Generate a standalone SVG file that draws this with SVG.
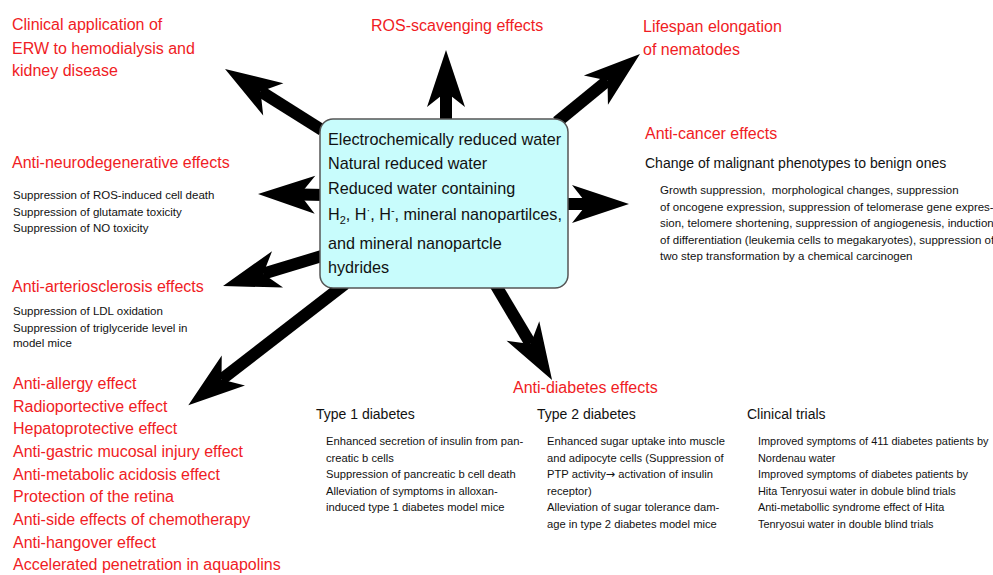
<svg xmlns="http://www.w3.org/2000/svg" width="993" height="575" viewBox="0 0 993 575">
<style>
text{font-family:"Liberation Sans",Arial,sans-serif}
.red{font-size:16px;fill:#f01c24}
.sub{font-size:14px;fill:#111}
.sm{font-size:11.2px;fill:#111}
.sm3{font-size:10.9px;fill:#111}
.sm2{font-size:11.5px;fill:#111}
.ctr{font-size:16.2px;fill:#111}
.shaft{stroke:#000;stroke-width:12;fill:none;marker-end:url(#ah)}
</style>
<defs>
<marker id="ah" markerUnits="userSpaceOnUse" markerWidth="60" markerHeight="40" refX="0" refY="0" orient="auto" style="overflow:visible">
<path d="M42,0 L-15,-19 L0,0 L-15,19 Z" fill="#000"/>
</marker>
</defs>
<rect width="993" height="575" fill="#fff"/>
<g id="connectors">
<line class="shaft" x1="322" y1="130" x2="260.6" y2="91.4"/>
<line class="shaft" x1="446" y1="125" x2="446" y2="92"/>
<line class="shaft" x1="557" y1="122" x2="607.5" y2="80.6"/>
<line class="shaft" x1="560" y1="204" x2="587" y2="204"/>
<line class="shaft" x1="325" y1="195" x2="300" y2="194.6"/>
<line class="shaft" x1="325" y1="255" x2="263.2" y2="273.8"/>
<line class="shaft" x1="345" y1="284" x2="221.5" y2="379.6"/>
<line class="shaft" x1="495" y1="284" x2="530.6" y2="343.9"/>
</g>
<g id="center">
<rect x="320" y="119" width="248" height="169" rx="13" fill="#c8fcfc" stroke="#555" stroke-width="1.5"/>
<text class="ctr" x="328" y="145">Electrochemically reduced water</text>
<text class="ctr" x="328" y="169">Natural reduced water</text>
<text class="ctr" x="328" y="194">Reduced water containing</text>
<text class="ctr" x="328" y="220">H<tspan font-size="11" dy="4">2</tspan><tspan dy="-4">, H</tspan><tspan font-size="11" dy="-6">·</tspan><tspan dy="6">, H</tspan><tspan font-size="11" dy="-6">-</tspan><tspan dy="6">, mineral nanopartilces,</tspan></text>
<text class="ctr" x="328" y="249">and mineral nanopartcle</text>
<text class="ctr" x="328" y="273">hydrides</text>
</g>
<g id="clinical-erw">
<text class="red" x="12" y="30">Clinical application of</text>
<text class="red" x="12" y="54">ERW to hemodialysis and</text>
<text class="red" x="12" y="76">kidney disease</text>
</g>
<g id="ros">
<text class="red" x="371" y="31">ROS-scavenging effects</text>
</g>
<g id="lifespan">
<text class="red" x="643" y="32">Lifespan elongation</text>
<text class="red" x="643" y="55">of nematodes</text>
</g>
<g id="anticancer">
<text class="red" x="645" y="139">Anti-cancer effects</text>
<text class="sub" x="645" y="168">Change of malignant phenotypes to benign ones</text>
<text class="sm2" x="660" y="194">Growth suppression, &#160;morphological changes, suppression</text>
<text class="sm2" x="660" y="210.5">of oncogene expression, suppression of telomerase gene expres-</text>
<text class="sm2" x="660" y="227">sion, telomere shortening, suppression of angiogenesis, induction</text>
<text class="sm2" x="660" y="243.5">of differentiation (leukemia cells to megakaryotes), suppression of</text>
<text class="sm2" x="660" y="260">two step transformation by a chemical carcinogen</text>
</g>
<g id="neuro">
<text class="red" x="12" y="168">Anti-neurodegenerative effects</text>
<text class="sm2" x="13" y="199">Suppression of ROS-induced cell death</text>
<text class="sm2" x="13" y="216">Suppression of glutamate toxicity</text>
<text class="sm2" x="13" y="232">Suppression of NO toxicity</text>
</g>
<g id="arterio">
<text class="red" x="12" y="292">Anti-arteriosclerosis effects</text>
<text class="sm2" x="13" y="315">Suppression of LDL oxidation</text>
<text class="sm2" x="13" y="332">Suppression of triglyceride level in</text>
<text class="sm2" x="13" y="347">model mice</text>
</g>
<g id="other-effects">
<text class="red" x="13" y="389">Anti-allergy effect</text>
<text class="red" x="13" y="411.5">Radioportective effect</text>
<text class="red" x="13" y="434">Hepatoprotective effect</text>
<text class="red" x="13" y="457">Anti-gastric mucosal injury effect</text>
<text class="red" x="13" y="479.5">Anti-metabolic acidosis effect</text>
<text class="red" x="13" y="502">Protection of the retina</text>
<text class="red" x="13" y="525">Anti-side effects of chemotherapy</text>
<text class="red" x="13" y="548">Anti-hangover effect</text>
<text class="red" x="13" y="570">Accelerated penetration in aquapolins</text>
</g>
<g id="antidiabetes">
<text class="red" x="513" y="393">Anti-diabetes effects</text>
<text class="sub" x="316" y="419">Type 1 diabetes</text>
<text class="sm" x="326" y="445">Enhanced secretion of insulin from pan-</text>
<text class="sm" x="326" y="461.5">creatic b cells</text>
<text class="sm" x="326" y="478">Suppression of pancreatic b cell death</text>
<text class="sm" x="326" y="494.5">Alleviation of symptoms in alloxan-</text>
<text class="sm" x="326" y="511">induced type 1 diabetes model mice</text>
<text class="sub" x="537" y="419">Type 2 diabetes</text>
<text class="sm" x="547" y="445">Enhanced sugar uptake into muscle</text>
<text class="sm" x="547" y="461.5">and adipocyte cells (Suppression of</text>
<text class="sm" x="547" y="478">PTP activity<tspan font-family="'DejaVu Sans',sans-serif">→</tspan> activation of insulin</text>
<text class="sm" x="547" y="494.5">receptor)</text>
<text class="sm" x="547" y="511">Alleviation of sugar tolerance dam-</text>
<text class="sm" x="547" y="527.5">age in type 2 diabetes model mice</text>
<text class="sub" x="747" y="419">Clinical trials</text>
<text class="sm3" x="758" y="445">Improved symptoms of 411 diabetes patients by</text>
<text class="sm3" x="758" y="461.5">Nordenau water</text>
<text class="sm3" x="758" y="478">Improved symptoms of diabetes patients by</text>
<text class="sm3" x="758" y="494.5">Hita Tenryosui water in dobule blind trials</text>
<text class="sm3" x="758" y="511">Anti-metabollic syndrome effect of Hita</text>
<text class="sm3" x="758" y="527.5">Tenryosui water in double blind trials</text>
</g>
</svg>
